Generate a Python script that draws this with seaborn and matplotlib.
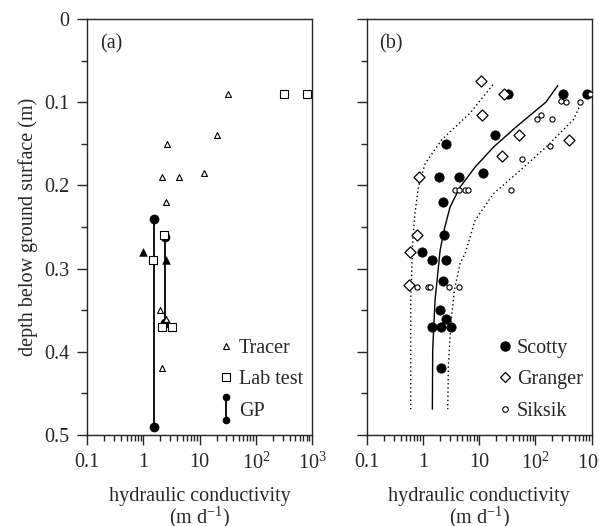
import numpy as np
import pandas as pd
import matplotlib
matplotlib.use("Agg")
import matplotlib.pyplot as plt
import matplotlib.ticker as mticker
from matplotlib.lines import Line2D
from matplotlib.legend_handler import HandlerBase
import seaborn as sns

# ---- panel (a) data: hydraulic conductivity (m/d) vs depth (m)
tracer_k = [32, 20, 2.6, 2.15, 4.3, 11.9, 2.5, 2.0, 2.5, 2.1]
tracer_d = [0.09, 0.14, 0.15, 0.19, 0.19, 0.185, 0.22, 0.35, 0.36, 0.42]
tracer_filled_k = [0.99, 2.5]
tracer_filled_d = [0.28, 0.29]
lab_k = [316, 820, 2.35, 1.5, 2.1, 3.25]
lab_d = [0.09, 0.09, 0.26, 0.29, 0.37, 0.37]
gp_k = [1.54, 2.4]
gp_top = [0.24, 0.262]
gp_bottom = [0.49, 0.365]

# ---- panel (b) data
scotty_k = [32, 311, 830, 19.2, 2.58, 1.96, 4.44, 11.9, 2.25, 2.37, 0.975,
            1.43, 2.58, 2.31, 2.01, 2.55, 1.47, 2.12, 3.16, 2.07]
scotty_d = [0.09, 0.09, 0.09, 0.14, 0.15, 0.19, 0.19, 0.185, 0.22, 0.26, 0.28,
            0.29, 0.29, 0.315, 0.35, 0.36, 0.37, 0.37, 0.37, 0.42]
granger_k = [10.7, 27.7, 11.4, 50, 400, 25.2, 0.86, 0.8, 0.59, 0.57]
granger_d = [0.075, 0.09, 0.115, 0.14, 0.145, 0.165, 0.19, 0.26, 0.28, 0.32]
siksik_k = [279, 356, 617, 950, 107, 128, 198, 182, 58.7, 3.7, 4.3, 5.7, 6.2, 37.4,
            0.78, 1.22, 1.34, 2.95, 4.34]
siksik_d = [0.098, 0.1, 0.1, 0.09, 0.12, 0.115, 0.12, 0.153, 0.168, 0.205, 0.205,
            0.205, 0.205, 0.205, 0.322, 0.322, 0.322, 0.322, 0.322]

fit_k = [250, 153, 46.7, 17.9, 8.45, 4.57, 3.03, 2.37, 2.02, 1.64, 1.49, 1.47]
fit_d = [0.08, 0.1, 0.129, 0.154, 0.178, 0.202, 0.226, 0.254, 0.278, 0.338, 0.398, 0.469]
low_k = [17.5, 6.9, 2.16, 1.09, 0.83, 0.72, 0.66, 0.607, 0.607]
low_d = [0.079, 0.113, 0.145, 0.174, 0.202, 0.234, 0.266, 0.338, 0.469]
high_k = [735, 474, 160, 53.4, 17.9, 8.45, 5.61, 4.57, 3.62, 3.13, 2.83, 2.76]
high_d = [0.093, 0.121, 0.153, 0.182, 0.21, 0.242, 0.282, 0.294, 0.326, 0.366, 0.418, 0.469]

xtick_vals = [0.1, 1, 10, 100, 1000]
xtick_labels = ["0.1", "1", "10", "$10^2$", "$10^3$"]

sns.set_style("ticks")
plt.rcParams["font.family"] = ["Liberation Serif", "DejaVu Serif"]
plt.rcParams["mathtext.fontset"] = "custom"
plt.rcParams["mathtext.rm"] = "Liberation Serif"
plt.rcParams["mathtext.it"] = "Liberation Serif:italic"
plt.rcParams["font.size"] = 14.5
plt.rcParams["axes.linewidth"] = 1.0


class HandlerGP(HandlerBase):
    def create_artists(self, legend, orig_handle, xdescent, ydescent,
                       width, height, fontsize, trans):
        cx = width / 2 - xdescent
        y0 = -ydescent - 0.3 * height
        y1 = height - ydescent + 0.3 * height
        ln = Line2D([cx, cx], [y0, y1], color="black", lw=1.3, marker="o",
                    ms=4.5, transform=trans)
        return [ln]


fig = plt.figure(figsize=(5.99, 5.26), dpi=100)
W, H = 599, 526
ax_a = fig.add_axes([87.3 / W, 1 - 435 / H, 224.7 / W, 416 / H])
ax_b = fig.add_axes([366.7 / W, 1 - 435 / H, 225 / W, 416 / H])

# panel (a)
for k, t, b in zip(gp_k, gp_top, gp_bottom):
    ax_a.plot([k, k], [t, b], color="black", lw=1.3, marker="o", ms=6, zorder=2)
sns.scatterplot(x=tracer_k, y=tracer_d, marker="^", s=18, facecolor="white",
                edgecolor="black", linewidth=0.8, ax=ax_a, zorder=3)
sns.scatterplot(x=tracer_filled_k, y=tracer_filled_d, marker="^", s=30,
                color="black", edgecolor="black", ax=ax_a, zorder=3)
sns.scatterplot(x=lab_k, y=lab_d, marker="s", s=36, facecolor="white",
                edgecolor="black", linewidth=0.8, ax=ax_a, zorder=3)

h_tr = Line2D([], [], ls="none", marker="^", ms=4.2, mfc="white", mec="black", mew=0.8)
h_lab = Line2D([], [], ls="none", marker="s", ms=6, mfc="white", mec="black", mew=0.8)
h_gp = Line2D([], [], color="black")
ax_a.legend([h_tr, h_lab, h_gp], ["Tracer", "Lab test", "GP"],
            handler_map={h_gp: HandlerGP()}, frameon=False,
            loc="upper left", bbox_to_anchor=(0.59, 0.232),
            borderpad=0, borderaxespad=0, handlelength=0.6,
            handletextpad=0.35, labelspacing=0.62)
ax_a.text(0.055, 0.94, "(a)", transform=ax_a.transAxes, va="center", ha="left")

# panel (b)
curves = pd.DataFrame({
    "k": fit_k + low_k + high_k,
    "d": fit_d + low_d + high_d,
    "curve": ["fit"] * len(fit_k) + ["low"] * len(low_k) + ["high"] * len(high_k),
})
sns.lineplot(data=curves[curves.curve == "fit"], x="k", y="d", sort=False,
             estimator=None, color="black", lw=1.0, ax=ax_b)
for name in ["low", "high"]:
    sns.lineplot(data=curves[curves.curve == name], x="k", y="d", sort=False,
                 estimator=None, color="black", lw=1.0, ls=(0, (1, 2.0)), ax=ax_b)
sns.scatterplot(x=scotty_k, y=scotty_d, marker="o", s=45, color="black",
                edgecolor="black", ax=ax_b, zorder=3)
sns.scatterplot(x=granger_k, y=granger_d, marker="D", s=32, facecolor="white",
                edgecolor="black", linewidth=0.9, ax=ax_b, zorder=3)
sns.scatterplot(x=siksik_k, y=siksik_d, marker="o", s=14, facecolor="white",
                edgecolor="black", linewidth=0.8, ax=ax_b, zorder=3)

h_sc = Line2D([], [], ls="none", marker="o", ms=6.5, mfc="black", mec="black")
h_gr = Line2D([], [], ls="none", marker="D", ms=5.5, mfc="white", mec="black", mew=0.9)
h_si = Line2D([], [], ls="none", marker="o", ms=4, mfc="white", mec="black", mew=0.8)
ax_b.legend([h_sc, h_gr, h_si], ["Scotty", "Granger", "Siksik"], frameon=False,
            loc="upper left", bbox_to_anchor=(0.588, 0.232),
            borderpad=0, borderaxespad=0, handlelength=0.6,
            handletextpad=0.3, labelspacing=0.62)
ax_b.text(0.055, 0.94, "(b)", transform=ax_b.transAxes, va="center", ha="left")

for ax in (ax_a, ax_b):
    ax.set_xscale("log")
    ax.set_xlim(0.1, 1000)
    ax.set_ylim(0.5, 0)
    ax.xaxis.set_major_locator(mticker.FixedLocator(xtick_vals))
    ax.xaxis.set_major_formatter(mticker.FixedFormatter(xtick_labels))
    ax.xaxis.set_minor_locator(mticker.LogLocator(base=10, subs=np.arange(2, 10)))
    ax.xaxis.set_minor_formatter(mticker.NullFormatter())
    ax.yaxis.set_major_locator(mticker.MultipleLocator(0.1))
    ax.yaxis.set_minor_locator(mticker.MultipleLocator(0.05))
    ax.tick_params(which="major", direction="out", length=7, width=1.0, pad=6)
    ax.tick_params(which="minor", direction="out", length=4.5, width=1.0)
    ax.tick_params(top=False, right=False, which="both")
    ax.set_xlabel("hydraulic conductivity\n(m d$^{\\mathregular{-1}}$)", labelpad=9,
                  linespacing=0.95)
    for s in ax.spines.values():
        s.set_visible(True)
        s.set_linewidth(1.0)

ax_a.yaxis.set_major_formatter(mticker.FuncFormatter(lambda v, p: f"{v:g}"))
ax_a.set_ylabel("depth below ground surface (m)", labelpad=4)
ax_b.yaxis.set_major_formatter(mticker.NullFormatter())
ax_b.set_ylabel("")

fig.savefig("out.png", dpi=100)
